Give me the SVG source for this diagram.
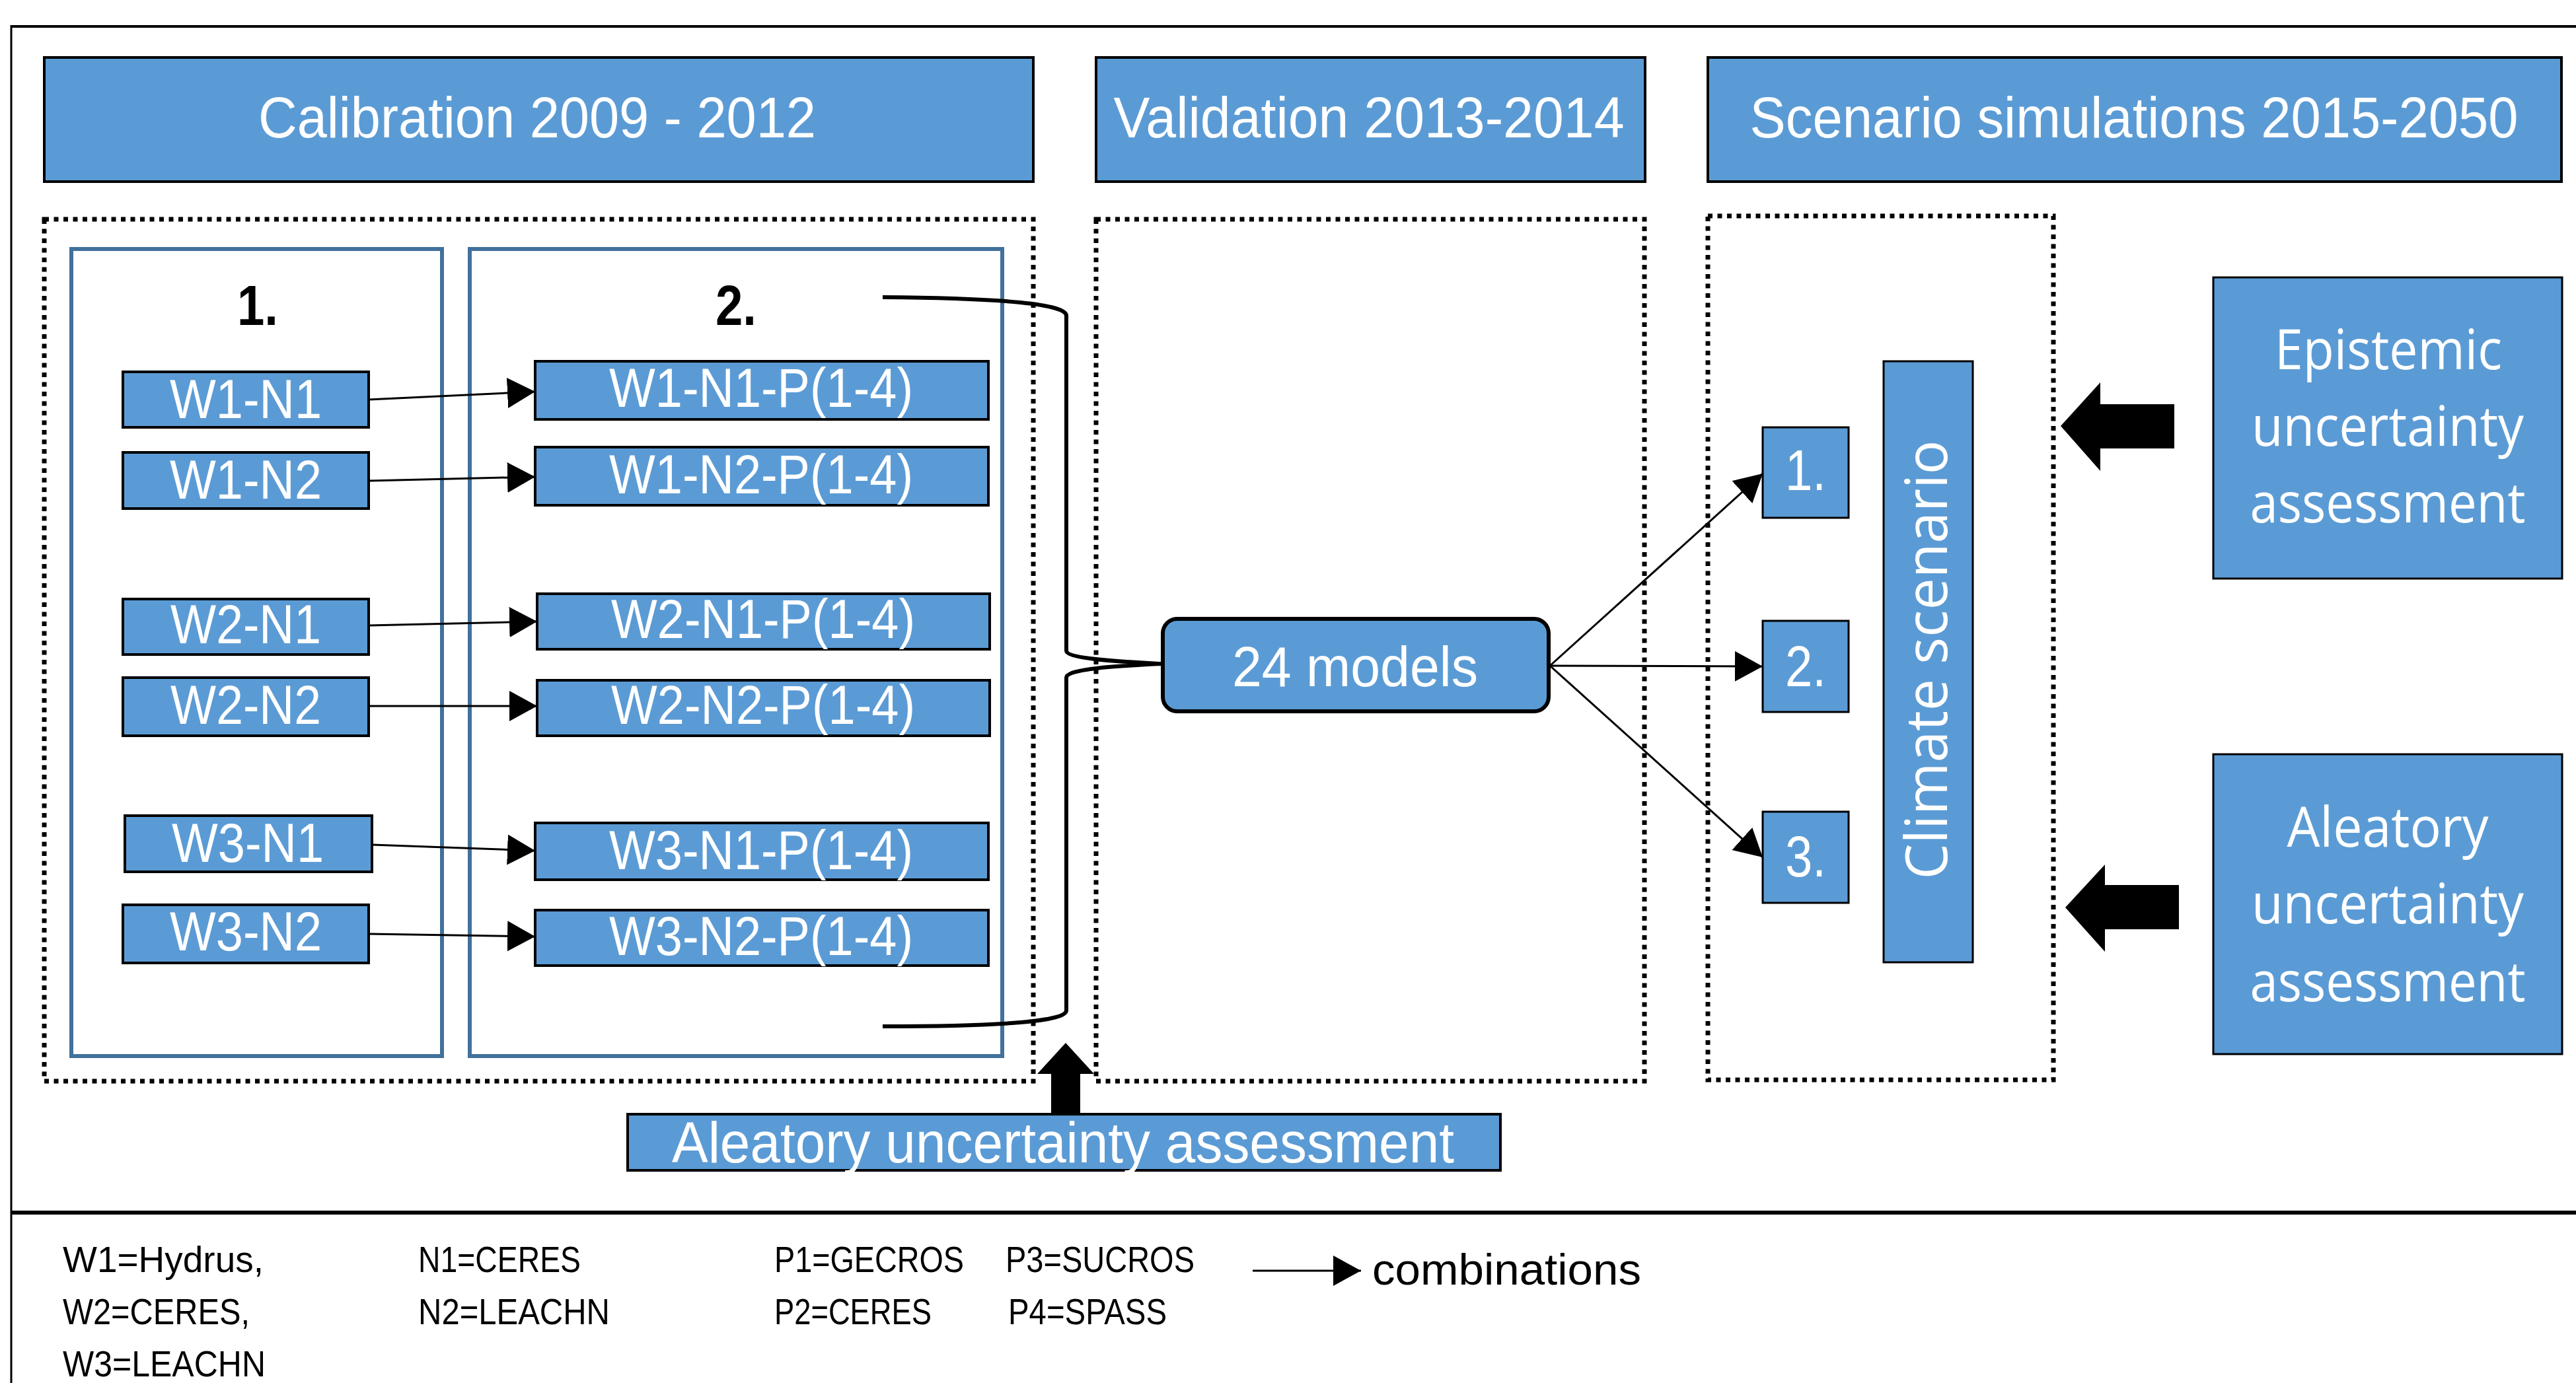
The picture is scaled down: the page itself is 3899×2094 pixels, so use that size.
<svg xmlns="http://www.w3.org/2000/svg" width="3899" height="2094" viewBox="0 0 3899 2094">
<style>
.hdr{fill:#5B9BD5;stroke:#000;stroke-width:4}
.box{fill:#5B9BD5;stroke:#000;stroke-width:4}
.thin{fill:#5B9BD5;stroke:#000;stroke-width:3}
.grp{fill:none;stroke:#41719C;stroke-width:6}
.dot{fill:none;stroke:#000;stroke-width:7;stroke-dasharray:7 7.5}
.wt{fill:#fff;font-family:"Liberation Sans Narrow","Liberation Sans",sans-serif;text-anchor:middle}
.os{fill:#fff;font-family:"Open Sans",sans-serif;text-anchor:middle}
.lg{fill:#000;font-family:"Liberation Sans Narrow","Liberation Sans",sans-serif;font-size:56px}
.bk{fill:#000;font-family:"Liberation Sans",sans-serif;font-weight:bold;font-size:86px;text-anchor:middle}
.conn{fill:none;stroke:#000;stroke-width:3}
.blk{fill:#000;stroke:none}
</style>
<defs>
<marker id="ah" markerUnits="userSpaceOnUse" markerWidth="46" markerHeight="48" refX="42" refY="23" orient="auto">
<path d="M0,0 L42,23 L0,46 z" fill="#000"/>
</marker>
</defs>

<g id="frame">
<line x1="17" y1="40" x2="3899" y2="40" stroke="#000" stroke-width="4"/>
<line x1="17" y1="38" x2="17" y2="2094" stroke="#000" stroke-width="3"/>
<line x1="17" y1="1836" x2="3899" y2="1836" stroke="#000" stroke-width="6"/>
</g>

<g id="containers">
<rect class="dot" x="67" y="332" width="1497" height="1305"/>
<rect class="dot" x="1659" y="332" width="830" height="1305"/>
<rect class="dot" x="2585" y="327" width="523" height="1308"/>
<rect class="grp" x="108" y="377" width="561" height="1222"/>
<rect class="grp" x="711" y="377" width="806" height="1222"/>
</g>

<g id="hdr-calibration">
<rect class="hdr" x="67" y="87" width="1497" height="188"/>
<text class="wt" x="813" y="208" font-size="87" textLength="844" lengthAdjust="spacingAndGlyphs">Calibration 2009 - 2012</text>
</g>
<g id="hdr-validation">
<rect class="hdr" x="1659" y="87" width="831" height="188"/>
<text class="wt" x="2072" y="208" font-size="87" textLength="773" lengthAdjust="spacingAndGlyphs">Validation 2013-2014</text>
</g>
<g id="hdr-scenario">
<rect class="hdr" x="2585" y="87" width="1292" height="188"/>
<text class="wt" x="3230" y="208" font-size="87" textLength="1163" lengthAdjust="spacingAndGlyphs">Scenario simulations 2015-2050</text>
</g>

<g id="label-1"><text class="bk" x="390" y="492" textLength="62" lengthAdjust="spacingAndGlyphs">1.</text></g>
<g id="label-2"><text class="bk" x="1114" y="492" textLength="62" lengthAdjust="spacingAndGlyphs">2.</text></g>

<g id="w1n1"><rect class="box" x="186" y="563" width="372" height="84"/><text class="wt" x="372" y="633" font-size="84" textLength="230" lengthAdjust="spacingAndGlyphs">W1-N1</text></g>
<g id="w1n2"><rect class="box" x="186" y="685" width="372" height="85"/><text class="wt" x="372" y="755" font-size="84" textLength="230" lengthAdjust="spacingAndGlyphs">W1-N2</text></g>
<g id="w2n1"><rect class="box" x="186" y="907" width="372" height="84"/><text class="wt" x="372" y="974" font-size="84" textLength="228" lengthAdjust="spacingAndGlyphs">W2-N1</text></g>
<g id="w2n2"><rect class="box" x="186" y="1026" width="372" height="88"/><text class="wt" x="372" y="1096" font-size="84" textLength="228" lengthAdjust="spacingAndGlyphs">W2-N2</text></g>
<g id="w3n1"><rect class="box" x="189" y="1235" width="374" height="85"/><text class="wt" x="375" y="1305" font-size="84" textLength="230" lengthAdjust="spacingAndGlyphs">W3-N1</text></g>
<g id="w3n2"><rect class="box" x="186" y="1370" width="372" height="88"/><text class="wt" x="372" y="1439" font-size="84" textLength="230" lengthAdjust="spacingAndGlyphs">W3-N2</text></g>

<g id="w1n1p"><rect class="box" x="810" y="547" width="686" height="88"/><text class="wt" x="1152" y="616" font-size="84" textLength="460" lengthAdjust="spacingAndGlyphs">W1-N1-P(1-4)</text></g>
<g id="w1n2p"><rect class="box" x="810" y="677" width="686" height="88"/><text class="wt" x="1152" y="747" font-size="84" textLength="460" lengthAdjust="spacingAndGlyphs">W1-N2-P(1-4)</text></g>
<g id="w2n1p"><rect class="box" x="813" y="899" width="685" height="84"/><text class="wt" x="1155" y="966" font-size="84" textLength="460" lengthAdjust="spacingAndGlyphs">W2-N1-P(1-4)</text></g>
<g id="w2n2p"><rect class="box" x="813" y="1030" width="685" height="84"/><text class="wt" x="1155" y="1096" font-size="84" textLength="460" lengthAdjust="spacingAndGlyphs">W2-N2-P(1-4)</text></g>
<g id="w3n1p"><rect class="box" x="810" y="1246" width="686" height="86"/><text class="wt" x="1152" y="1316" font-size="84" textLength="460" lengthAdjust="spacingAndGlyphs">W3-N1-P(1-4)</text></g>
<g id="w3n2p"><rect class="box" x="810" y="1378" width="686" height="84"/><text class="wt" x="1152" y="1446" font-size="84" textLength="460" lengthAdjust="spacingAndGlyphs">W3-N2-P(1-4)</text></g>

<g id="models24">
<rect x="1760" y="937" width="584" height="140" rx="22" fill="#5B9BD5" stroke="#000" stroke-width="6"/>
<text class="wt" x="2051" y="1039" font-size="85" textLength="372" lengthAdjust="spacingAndGlyphs">24 models</text>
</g>

<g id="sc1"><rect class="thin" x="2668" y="647" width="130" height="137"/><text class="wt" x="2733" y="742" font-size="87" textLength="62" lengthAdjust="spacingAndGlyphs">1.</text></g>
<g id="sc2"><rect class="thin" x="2668" y="940" width="130" height="138"/><text class="wt" x="2733" y="1039" font-size="87" textLength="62" lengthAdjust="spacingAndGlyphs">2.</text></g>
<g id="sc3"><rect class="thin" x="2668" y="1229" width="130" height="138"/><text class="wt" x="2733" y="1327" font-size="87" textLength="62" lengthAdjust="spacingAndGlyphs">3.</text></g>

<g id="climate">
<rect class="thin" x="2851" y="547" width="135" height="910"/>
<text class="os" transform="translate(2947,999) rotate(-90)" font-size="88" textLength="665" lengthAdjust="spacingAndGlyphs">Climate scenario</text>
</g>

<g id="epistemic">
<rect class="thin" x="3350" y="420" width="528" height="456"/>
<text class="os" x="3615" y="559" font-size="85" textLength="344" lengthAdjust="spacingAndGlyphs">Epistemic</text>
<text class="os" x="3614" y="675" font-size="85" textLength="412" lengthAdjust="spacingAndGlyphs">uncertainty</text>
<text class="os" x="3614" y="791" font-size="85" textLength="417" lengthAdjust="spacingAndGlyphs">assessment</text>
</g>

<g id="aleatory-right">
<rect class="thin" x="3350" y="1142" width="528" height="454"/>
<text class="os" x="3614" y="1282" font-size="85" textLength="305" lengthAdjust="spacingAndGlyphs">Aleatory</text>
<text class="os" x="3614" y="1398" font-size="85" textLength="412" lengthAdjust="spacingAndGlyphs">uncertainty</text>
<text class="os" x="3614" y="1516" font-size="85" textLength="417" lengthAdjust="spacingAndGlyphs">assessment</text>
</g>

<g id="aleatory-bottom">
<rect class="box" x="950" y="1687" width="1321" height="85"/>
<text class="wt" x="1609" y="1760" font-size="87" textLength="1184" lengthAdjust="spacingAndGlyphs">Aleatory uncertainty assessment</text>
</g>

<g id="connectors">
<line class="conn" x1="558" y1="605" x2="810" y2="593" marker-end="url(#ah)"/>
<line class="conn" x1="558" y1="728" x2="810" y2="722" marker-end="url(#ah)"/>
<line class="conn" x1="558" y1="947" x2="813" y2="941" marker-end="url(#ah)"/>
<line class="conn" x1="558" y1="1069" x2="813" y2="1069" marker-end="url(#ah)"/>
<line class="conn" x1="563" y1="1279" x2="810" y2="1288" marker-end="url(#ah)"/>
<line class="conn" x1="558" y1="1414" x2="810" y2="1418" marker-end="url(#ah)"/>
<path d="M1336,450 Q1614,452 1614,478 L1614,985 C1614,998 1700,1002 1757,1005 C1700,1008 1614,1012 1614,1026 L1614,1530 Q1614,1554 1336,1554" fill="none" stroke="#000" stroke-width="6"/>
<line class="conn" x1="2346" y1="1008" x2="2668" y2="717" marker-end="url(#ah)"/>
<line class="conn" x1="2346" y1="1008" x2="2668" y2="1009" marker-end="url(#ah)"/>
<line class="conn" x1="2346" y1="1008" x2="2668" y2="1298" marker-end="url(#ah)"/>
<polygon class="blk" points="3119,645 3179,579 3179,612 3291,612 3291,679 3179,679 3179,713"/>
<polygon class="blk" points="3126,1374 3186,1309 3186,1340 3298,1340 3298,1407 3186,1407 3186,1441"/>
<polygon class="blk" points="1613,1579 1656,1626 1635,1626 1635,1688 1591,1688 1591,1626 1570,1626"/>
</g>

<g id="legend">
<text class="lg" x="95" y="1926" textLength="304" lengthAdjust="spacingAndGlyphs">W1=Hydrus,</text>
<text class="lg" x="95" y="2005" textLength="283" lengthAdjust="spacingAndGlyphs">W2=CERES,</text>
<text class="lg" x="95" y="2084" textLength="307" lengthAdjust="spacingAndGlyphs">W3=LEACHN</text>
<text class="lg" x="633" y="1926" textLength="246" lengthAdjust="spacingAndGlyphs">N1=CERES</text>
<text class="lg" x="633" y="2005" textLength="290" lengthAdjust="spacingAndGlyphs">N2=LEACHN</text>
<text class="lg" x="1172" y="1926" textLength="287" lengthAdjust="spacingAndGlyphs">P1=GECROS</text>
<text class="lg" x="1172" y="2005" textLength="238" lengthAdjust="spacingAndGlyphs">P2=CERES</text>
<text class="lg" x="1522" y="1926" textLength="286" lengthAdjust="spacingAndGlyphs">P3=SUCROS</text>
<text class="lg" x="1526" y="2005" textLength="240" lengthAdjust="spacingAndGlyphs">P4=SPASS</text>
<line class="conn" x1="1896" y1="1924" x2="2060" y2="1924" marker-end="url(#ah)"/>
<text class="lg" x="2077" y="1945" style="font-size:66px" textLength="407" lengthAdjust="spacingAndGlyphs">combinations</text>
</g>
</svg>
